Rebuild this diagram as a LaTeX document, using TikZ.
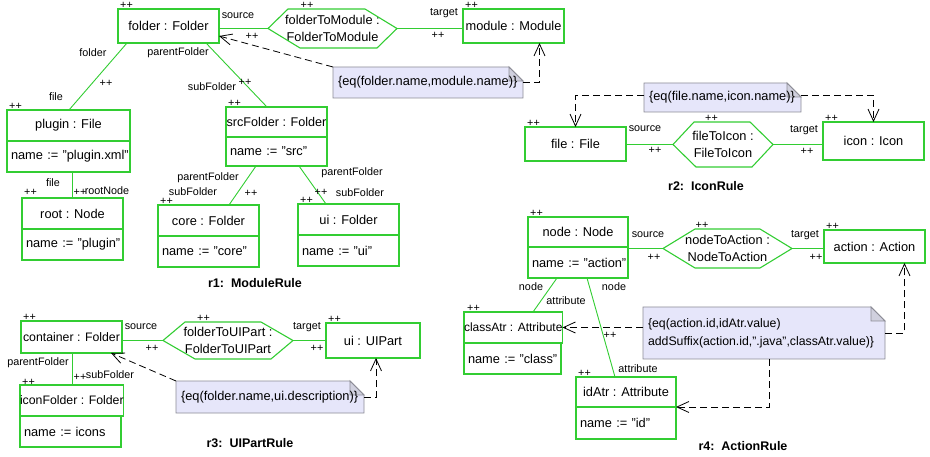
\documentclass[tikz,border=0pt]{standalone}
\usepackage{fontspec}
\setmainfont{Liberation Sans}
\usetikzlibrary{arrows.meta, backgrounds, positioning}
\definecolor{objgreen}{RGB}{50,205,50}
\definecolor{notefill}{RGB}{230,230,250}
\definecolor{foldfill}{RGB}{208,208,222}
\definecolor{notebd}{RGB}{140,140,150}
\newcommand{\objfont}{\fontsize{12.8}{17}\selectfont}
\newcommand{\lblfont}{\fontsize{10.8}{12}\selectfont}
\newcommand{\titlefont}{\fontsize{12.5}{15}\selectfont\bfseries}
\tikzstyle{obj} = [draw=objgreen, line width=1.1pt, rectangle, inner sep=0pt, outer sep=0pt, minimum width=101pt, minimum height=34pt, font=\objfont, anchor=north west]
\tikzstyle{head} = [obj, minimum height=31pt]
\tikzstyle{attr} = [draw=objgreen, line width=1.1pt, rectangle, inner xsep=4pt, inner ysep=0pt, outer sep=0pt, text width=93pt, minimum height=31pt, font=\objfont, align=left, anchor=north west]
\tikzstyle{assoc} = [rectangle, inner sep=0pt, outer sep=0pt, font=\objfont, align=center]
\tikzstyle{hexline} = [draw=objgreen, line width=1.1pt, line join=round]
\tikzstyle{link} = [draw=objgreen, line width=0.9pt]
\tikzstyle{constr} = [draw=black, line width=0.8pt, dash pattern=on 7pt off 4pt, ->]
\tikzstyle{lbl} = [font=\lblfont, inner sep=0pt]
\tikzstyle{pp} = [font=\lblfont, inner sep=0pt, anchor=base west]
\tikzstyle{note} = [rectangle, inner xsep=5pt, inner ysep=0pt, outer sep=0pt, font=\objfont, align=left, anchor=north west]
\tikzstyle{title} = [font=\titlefont, inner sep=0pt]
\newcommand{\hexa}[3]{\draw[hexline] ([xshift=#2pt]#1.north west) -- ([xshift=-#3pt]#1.north east) -- (#1.east) -- ([xshift=-#2pt]#1.south east) -- ([xshift=#3pt]#1.south west) -- (#1.west) -- cycle;}
\newcommand{\notebg}[1]{\begin{scope}[on background layer]
  \draw[draw=notebd, fill=notefill, line width=0.9pt] (#1.north west) -- ([xshift=-14pt]#1.north east) -- ([yshift=-14pt]#1.north east) -- (#1.south east) -- (#1.south west) -- cycle;
  \draw[draw=notebd, fill=foldfill, line width=0.9pt] ([xshift=-14pt]#1.north east) -- ([xshift=-14pt,yshift=-14pt]#1.north east) -- ([yshift=-14pt]#1.north east) -- cycle;
\end{scope}}

\begin{document}
\begin{tikzpicture}[x=1pt, y=-1pt, >={Straight Barb[length=12pt,width=11pt]}]
  \useasboundingbox (0,0) rectangle (930,457);

  \node[obj] (folder) at (118,9) {folder : Folder};
  \node[assoc, minimum width=129pt, minimum height=39pt] (f2m) at (332.5,28.5) {folderToModule :\\FolderToModule};
  \node[obj] (module) at (463,9) {module : Module};
  \node[head, minimum width=123pt] (plugin) at (7,110) {plugin : File};
  \node[attr, text width=115pt] (plugin-a) at (plugin.south west) {\mbox{name := "plugin.xml"}};
  \node[head] (root) at (22,198) {root : Node};
  \node[attr] (root-a) at (root.south west) {\mbox{name := "plugin"}};
  \node[head, minimum height=30pt, font=\fontsize{12.6}{15}\selectfont] (src) at (226,107) {srcFolder : Folder};
  \node[attr, minimum height=29pt] (src-a) at (src.south west) {\mbox{name := "src"}};
  \node[head] (core) at (158,205) {core : Folder};
  \node[attr] (core-a) at (core.south west) {\mbox{name := "core"}};
  \node[head] (uif) at (298,204) {ui : Folder};
  \node[attr] (uif-a) at (uif.south west) {\mbox{name := "ui"}};
  \node[note, text width=180pt, minimum height=31pt] (note1) at (333,67) {\{eq(folder.name,module.name)\}};
  \notebg{note1}
  \hexa{f2m}{20}{32}

  \draw[link] (f2m.west -| folder.east) -- (f2m.west);
  \draw[link] (f2m.east) -- (f2m.east -| module.west);
  \draw[link] ([xshift=9pt]folder.south west) -- ([xshift=62pt]plugin.north west);
  \draw[link] ([xshift=88pt]folder.south west) -- ([xshift=41pt]src.north west);
  \draw[link] (root.north |- plugin-a.south) -- (root.north);
  \draw[link] ([xshift=30pt]src-a.south west) -- ([xshift=71pt]core.north west);
  \draw[link] ([xshift=73pt]src-a.south west) -- ([xshift=28pt]uif.north west);
  \draw[constr] (note1.north west) -- ([yshift=-10pt]folder.east);
  \draw[constr] (note1.east) -| ([xshift=26pt]module.south);

  \node[lbl] (src1) at (238,16) {source};
  \node[lbl] (src1-pp) at (252,36) {++};
  \node[lbl] (tgt1) at (444,13) {target};
  \node[lbl] (tgt1-pp) at (438,35) {++};
  \node[lbl] (fold1) at (93,53) {folder};
  \node[lbl] (fold1-pp) at (106,83) {++};
  \node[lbl] (file1) at (56,97) {file};
  \node[lbl] (par1) at (178,53) {parentFolder};
  \node[lbl] (sub1) at (212,87) {subFolder};
  \node[lbl] (sub1-pp) at (245,82) {++};
  \node[lbl] (file2) at (53,183) {file};
  \node[lbl] (rn-pp) at (80,192) {++};
  \node[lbl] (rn) at (107,191) {rootNode};
  \node[lbl] (par2) at (208,178) {parentFolder};
  \node[lbl] (sub2) at (193,192) {subFolder};
  \node[lbl] (sub2-pp) at (251,193) {++};
  \node[lbl] (par3) at (352,173) {parentFolder};
  \node[lbl] (sub3-pp) at (321,192) {++};
  \node[lbl] (sub3) at (360,193) {subFolder};

  \node[pp] (folder-pp) at ([xshift=2pt]folder.north west) {++};
  \node[pp] (f2m-pp) at ([xshift=-32pt]f2m.north) {++};
  \node[pp] (module-pp) at ([xshift=2pt]module.north west) {++};
  \node[pp] (plugin-pp) at ([xshift=2pt]plugin.north west) {++};
  \node[pp] (root-pp) at ([xshift=2pt,yshift=2pt]root.north west) {++};
  \node[pp] (src-pp) at ([xshift=2pt]src.north west) {++};
  \node[pp] (core-pp) at ([xshift=2pt]core.north west) {++};
  \node[pp] (uif-pp) at ([xshift=2pt]uif.north west) {++};
  \node[title] (r1) at (255,283) {r1:~~ModuleRule};

  \node[obj] (file) at (525,127) {file : File};
  \node[assoc, minimum width=100pt, minimum height=45pt] (f2i) at (723,144.5) {fileToIcon :\\FileToIcon};
  \node[obj, minimum height=38pt] (icon) at (823,122) {icon : Icon};
  \node[note, text width=147pt, minimum height=29pt] (note2) at (644,83) {\{eq(file.name,icon.name)\}};
  \notebg{note2}
  \hexa{f2i}{21}{23}

  \draw[link] (f2i.west -| file.east) -- (f2i.west);
  \draw[link] (f2i.east) -- (f2i.east -| icon.west);
  \draw[constr] ([yshift=2pt]note2.west) -| (file.north);
  \draw[constr] ([yshift=2pt]note2.east) -| (icon.north);

  \node[lbl] (src2) at (645,129) {source};
  \node[lbl] (src2-pp) at (655,150) {++};
  \node[lbl] (tgt2) at (804,130) {target};
  \node[lbl] (tgt2-pp) at (807,151) {++};
  \node[pp] (file-pp) at ([xshift=2pt]file.north west) {++};
  \node[pp] (f2i-pp) at ([xshift=-18pt]f2i.north) {++};
  \node[pp] (icon-pp) at ([xshift=2pt]icon.north west) {++};
  \node[title] (r2) at (706,186) {r2:~~IconRule};

  \node[obj, minimum height=32pt, font=\fontsize{12.3}{15}\selectfont] (container) at (21,321) {container : Folder};
  \node[assoc, minimum width=130pt, minimum height=37pt] (f2u) at (228,340.5) {folderToUIPart :\\FolderToUIPart};
  \node[obj, minimum width=94pt, minimum height=35pt] (uip) at (326,323) {ui : UIPart};
  \node[head, font=\fontsize{12.3}{15}\selectfont] (iconf) at (20,385) {iconFolder : Folder};
  \node[attr] (iconf-a) at (iconf.south west) {\mbox{name := icons}};
  \node[note, text width=178pt, minimum height=32pt] (note3) at (176,381) {\{eq(folder.name,ui.description)\}};
  \notebg{note3}
  \hexa{f2u}{22}{32}

  \draw[link] (f2u.west -| container.east) -- (f2u.west);
  \draw[link] (f2u.east) -- (f2u.east -| uip.west);
  \draw[link] ([xshift=1pt]container.south) -- ([xshift=1pt]container.south |- iconf.north);
  \draw[constr] (note3.north west) -- ([xshift=-11pt]container.south east);
  \draw[constr] (note3.east) -| ([xshift=3pt]uip.south);

  \node[lbl] (src3) at (141,327) {source};
  \node[lbl] (src3-pp) at (152,348) {++};
  \node[lbl] (tgt3) at (307,327) {target};
  \node[lbl] (tgt3-pp) at (317,348) {++};
  \node[lbl] (par4) at (38,363) {parentFolder};
  \node[lbl] (sub4-pp) at (80,377) {++};
  \node[lbl] (sub4) at (110,375) {subFolder};
  \node[pp] (container-pp) at ([xshift=2pt]container.north west) {++};
  \node[pp] (f2u-pp) at ([xshift=-31pt]f2u.north) {++};
  \node[pp] (uip-pp) at ([xshift=2pt]uip.north west) {++};
  \node[pp] (iconf-pp) at ([xshift=2pt]iconf.north west) {++};
  \node[title] (r3) at (250,443) {r3:~~UIPartRule};

  \node[head, minimum width=100pt, minimum height=30pt] (nodeo) at (528,217) {node : Node};
  \node[attr, text width=92pt] (nodeo-a) at (nodeo.south west) {\mbox{name := "action"}};
  \node[assoc, minimum width=129pt, minimum height=39pt] (n2a) at (727.5,248.5) {nodeToAction :\\NodeToAction};
  \node[obj, minimum height=33pt] (action) at (824,230) {action : Action};
  \node[head, minimum width=97pt, font=\fontsize{12}{15}\selectfont] (classatr) at (464,312) {classAtr : Attribute};
  \node[attr, text width=89pt] (classatr-a) at (classatr.south west) {\mbox{name := "class"}};
  \node[head, minimum width=100pt, minimum height=30pt] (idatr) at (576,377) {idAtr : Attribute};
  \node[attr, text width=92pt, minimum height=32pt] (idatr-a) at (idatr.south west) {\mbox{name := "id"}};
  \node[note, inner xsep=5pt, text width=232pt, minimum height=52pt, font=\fontsize{12.3}{18}\selectfont] (note4) at (643,307) {\{eq(action.id,idAtr.value)\\addSuffix(action.id,".java",classAtr.value)\}};
  \notebg{note4}
  \hexa{n2a}{32}{32}

  \draw[link] (n2a.west -| nodeo.east) -- (n2a.west);
  \draw[link] (n2a.east) -- (n2a.east -| action.west);
  \draw[link] ([xshift=29pt]nodeo-a.south west) -- ([xshift=69pt]classatr.north west);
  \draw[link] ([xshift=59pt]nodeo-a.south west) -- ([xshift=39pt]idatr.north west);
  \draw[constr] (classatr.east -| note4.west) -- (classatr.east);
  \draw[constr] ([xshift=5pt]note4.south) |- (idatr.south east);
  \draw[constr] (note4.east) -| ([xshift=30pt]action.south);

  \node[lbl] (src4) at (648,235) {source};
  \node[lbl] (src4-pp) at (654,257) {++};
  \node[lbl] (tgt4) at (805,235) {target};
  \node[lbl] (tgt4-pp) at (816,257) {++};
  \node[lbl] (nd1) at (531,287) {node};
  \node[lbl] (att1) at (566,301) {attribute};
  \node[lbl] (nd2) at (614,287) {node};
  \node[lbl] (att2-pp) at (610,335) {++};
  \node[lbl] (att2) at (638,369) {attribute};
  \node[pp] (nodeo-pp) at ([xshift=2pt]nodeo.north west) {++};
  \node[pp] (n2a-pp) at ([xshift=-32pt]n2a.north) {++};
  \node[pp] (action-pp) at ([xshift=2pt]action.north west) {++};
  \node[pp] (classatr-pp) at ([xshift=3pt]classatr.north west) {++};
  \node[pp] (idatr-pp) at ([xshift=2pt]idatr.north west) {++};
  \node[title] (r4) at (743,446) {r4:~~ActionRule};
\end{tikzpicture}
\end{document}
